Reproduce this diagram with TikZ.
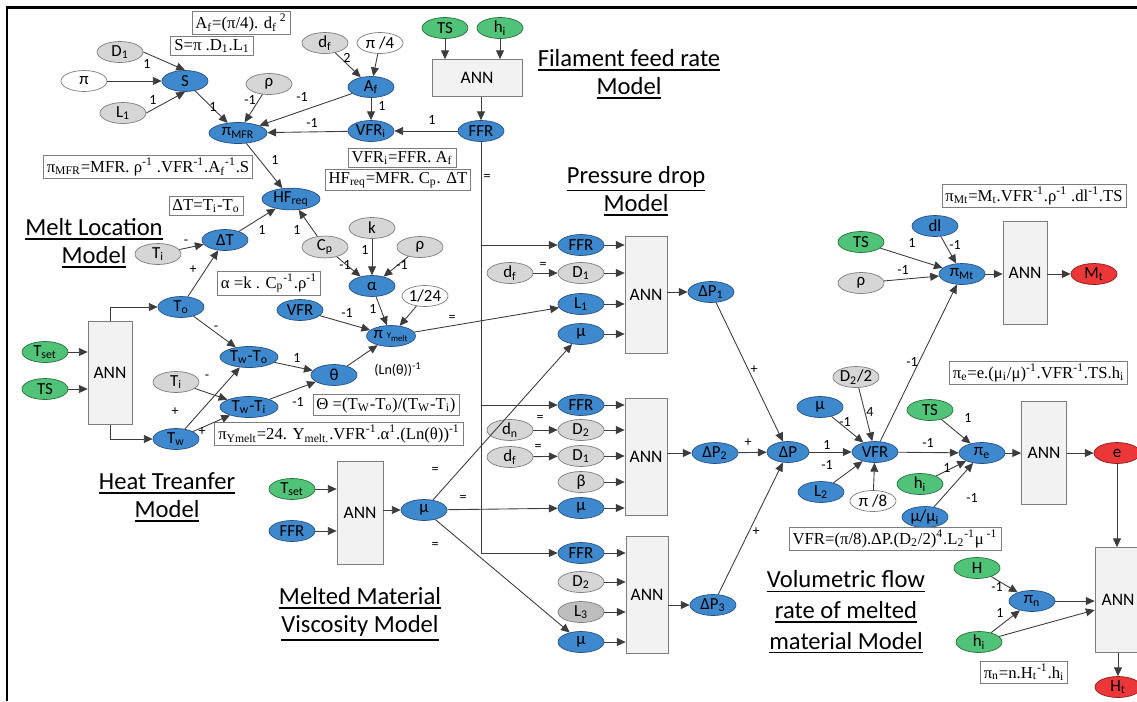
\documentclass[tikz,border=0pt]{standalone}
\usepackage{fontspec}
\setmainfont{Carlito}
\newfontfamily\eqfont{Liberation Serif}
\usetikzlibrary{arrows.meta,shapes.geometric}
\definecolor{nodeblue}{RGB}{62,137,205}
\definecolor{lineblue}{RGB}{40,80,130}
\definecolor{nodegreen}{RGB}{80,195,120}
\definecolor{linegreen}{RGB}{40,110,60}
\definecolor{nodered}{RGB}{235,55,55}
\definecolor{linered}{RGB}{140,30,30}
\definecolor{nodegray}{RGB}{214,214,214}
\definecolor{darkgray2}{RGB}{190,190,190}
\definecolor{edgegray}{RGB}{125,125,125}
\definecolor{annfill}{RGB}{242,242,242}
\definecolor{wire}{RGB}{60,60,60}
\newcommand\ulx[1]{\vtop{\hbox{#1}\kern1.6pt\hrule height 0.8pt}}
\tikzset{
  base/.style   = {ellipse,inner sep=0pt,minimum width=0.92cm,minimum height=0.42cm,
                   font=\fontsize{9.6}{10}\selectfont},
  bnode/.style  = {base,draw=lineblue,fill=nodeblue},
  gnode/.style  = {base,draw=linegreen,fill=nodegreen},
  rnode/.style  = {base,draw=linered,fill=nodered},
  cnode/.style  = {base,draw=edgegray,fill=nodegray},
  wnode/.style  = {base,draw=edgegray,fill=white},
  wide/.style   = {minimum width=1.16cm},
  annbox/.style = {draw=edgegray,fill=annfill,inner sep=0pt,font=\fontsize{10}{11}\selectfont},
  eqbox/.style  = {draw=edgegray,fill=white,inner xsep=2pt,inner ysep=1.5pt,
                   font=\eqfont\fontsize{9.5}{11}\selectfont},
  lbl/.style    = {inner sep=0pt,font=\fontsize{8}{9}\selectfont},
  ttl/.style    = {align=center,font=\fontsize{14}{16}\selectfont},
  arr/.style    = {-{Triangle[length=5pt,width=4.5pt]},wire,line width=0.5pt},
}
\begin{document}
\begin{tikzpicture}[x=0.02cm,y=-0.02cm]
  \useasboundingbox (0,0) rectangle (1137,701);
  \draw[line width=1.7pt] (7,701) -- (7,7) -- (1137,7);

  % filament feed rate and melt location
  \node[cnode] (D1s) at (120,52) {D\textsubscript{1}};
  \node[wnode] (pis) at (84,81) {π};
  \node[cnode] (L1s) at (123,113) {L\textsubscript{1}};
  \node[bnode] (S) at (185,81) {S};
  \node[cnode] (rhoA) at (269,84) {ρ};
  \node[bnode,wide] (piMFR) at (238,133) {π\textsubscript{MFR}};
  \node[cnode] (df) at (325,43) {d\textsubscript{f}};
  \node[wnode] (pi4) at (380,43) {π /4};
  \node[bnode] (Af) at (371,87) {A\textsubscript{f}};
  \node[bnode] (VFRi) at (371,131) {VFR\textsubscript{i}};
  \node[bnode] (FFR) at (481,131) {FFR};
  \node[gnode] (TSa) at (445,28) {TS};
  \node[gnode] (hia) at (500,28) {h\textsubscript{i}};
  \node[annbox,minimum width=1.8cm,minimum height=0.74cm] (ANNf) at (477,78) {ANN};
  \node[bnode,wide] (HFreq) at (291,199) {HF\textsubscript{req}};
  \node[bnode] (dT) at (225,240) {ΔT};
  \node[cnode] (TiA) at (158,254) {T\textsubscript{i}};
  \node[cnode] (k) at (372,228) {k};
  \node[cnode] (Cp) at (325,247) {C\textsubscript{p}};
  \node[cnode] (rhoB) at (420,247) {ρ};
  \node[bnode] (alpha) at (372,286) {α};
  \node[wnode] (r24) at (425,296) {1/24};
  \node[bnode] (VFRa) at (300,310) {VFR};
  \node[bnode] (piY) at (391,336) {π {\fontsize{5}{6}\selectfont Y\textsubscript{melt}}};
  \node[bnode] (theta) at (334,375) {θ};

  % heat transfer
  \node[bnode] (To) at (181,307) {T\textsubscript{o}};
  \node[bnode] (Tw) at (176,439) {T\textsubscript{w}};
  \node[bnode,wide] (TwTo) at (249,357) {T\textsubscript{w}-T\textsubscript{o}};
  \node[bnode,wide] (TwTi) at (249,407) {T\textsubscript{w}-T\textsubscript{i}};
  \node[cnode] (TiB) at (176,382) {T\textsubscript{i}};
  \node[annbox,minimum width=0.88cm,minimum height=2.06cm] (ANNh) at (110,373) {ANN};
  \node[gnode] (TsetA) at (45,352) {T\textsubscript{set}};
  \node[gnode] (TSb) at (45,389) {TS};

  % viscosity
  \node[gnode] (TsetB) at (292,489) {T\textsubscript{set}};
  \node[bnode] (FFRv) at (292,531) {FFR};
  \node[annbox,minimum width=0.92cm,minimum height=2.06cm] (ANNv) at (360,513) {ANN};
  \node[bnode] (muv) at (424,510) {μ};

  % pressure drop
  \node[bnode] (FFRa) at (581,245) {FFR};
  \node[cnode] (D1a) at (581,273) {D\textsubscript{1}};
  \node[bnode] (L1a) at (581,304) {L\textsubscript{1}};
  \node[bnode] (mua) at (581,334) {μ};
  \node[cnode] (dfa) at (510,273) {d\textsubscript{f}};
  \node[annbox,minimum width=0.84cm,minimum height=2.34cm] (ANNa) at (646,295) {ANN};
  \node[bnode] (dP1) at (711,292) {ΔP\textsubscript{1}};
  \node[bnode] (FFRb) at (581,405) {FFR};
  \node[cnode] (D2b) at (581,430) {D\textsubscript{2}};
  \node[cnode] (D1b) at (581,456) {D\textsubscript{1}};
  \node[cnode] (betab) at (581,482) {β};
  \node[bnode] (mub) at (581,508) {μ};
  \node[cnode] (dnb) at (510,430) {d\textsubscript{n}};
  \node[cnode] (dfb) at (510,457) {d\textsubscript{f}};
  \node[annbox,minimum width=0.84cm,minimum height=2.34cm] (ANNb) at (646,457) {ANN};
  \node[bnode] (dP2) at (715,453) {ΔP\textsubscript{2}};
  \node[bnode] (FFRc) at (581,553) {FFR};
  \node[cnode] (D2c) at (581,582) {D\textsubscript{2}};
  \node[cnode,fill=darkgray2] (L3c) at (581,612) {L\textsubscript{3}};
  \node[bnode] (muc) at (581,642) {μ};
  \node[annbox,minimum width=0.84cm,minimum height=2.34cm] (ANNc) at (647,595) {ANN};
  \node[bnode] (dP3) at (713,605) {ΔP\textsubscript{3}};

  % volumetric flow rate
  \node[bnode,minimum width=0.84cm] (dP) at (788,452) {ΔP};
  \node[bnode] (muw) at (820,407) {μ};
  \node[bnode] (L2) at (821,492) {L\textsubscript{2}};
  \node[cnode] (D22) at (856,377) {D\textsubscript{2}/2};
  \node[bnode] (VFRb) at (875,452) {VFR};
  \node[wnode] (pi8) at (873,501) {π /8};

  % outputs
  \node[gnode] (TSc) at (861,242) {TS};
  \node[bnode] (dl) at (935,226) {dl};
  \node[cnode] (rhoC) at (861,283) {ρ};
  \node[bnode] (piMt) at (962,274) {π\textsubscript{Mt}};
  \node[annbox,minimum width=0.88cm,minimum height=2.06cm] (ANNm) at (1025,273) {ANN};
  \node[rnode] (Mt) at (1094,274) {M\textsubscript{t}};
  \node[gnode] (TSd) at (930,410) {TS};
  \node[gnode] (hib) at (920,484) {h\textsubscript{i}};
  \node[bnode] (mumi) at (925,517) {μ/μ\textsubscript{i}};
  \node[bnode] (pie) at (982,453) {π\textsubscript{e}};
  \node[annbox,minimum width=0.9cm,minimum height=2.06cm] (ANNe) at (1044,453) {ANN};
  \node[rnode] (e) at (1117,453) {e};
  \node[gnode] (H) at (977,568) {H};
  \node[bnode] (pin) at (1032,601) {π\textsubscript{n}};
  \node[gnode] (hic) at (979,642) {h\textsubscript{i}};
  \node[annbox,minimum width=0.92cm,minimum height=2.1cm] (ANNt) at (1118,600) {ANN};
  \node[rnode] (Ht) at (1118,687) {H\textsubscript{t}};

  % formula boxes
  \node[eqbox] (eqAf) at (241,23) {A\textsubscript{f}=(π/4). d\textsubscript{f}\textsuperscript{ 2}};
  \node[eqbox] (eqS) at (212,46) {S=π .D\textsubscript{1}.L\textsubscript{1}};
  \node[eqbox] (eqMFR) at (148,167) {π\textsubscript{MFR}=MFR. ρ\textsuperscript{-1} .VFR\textsuperscript{-1}.A\textsubscript{f}\textsuperscript{-1}.S};
  \node[eqbox] (eqdT) at (206,206) {ΔT=T\textsubscript{i}-T\textsubscript{o}};
  \node[eqbox] (eqVFRi) at (402,158) {VFR\textsubscript{i}=FFR. A\textsubscript{f}};
  \node[eqbox] (eqHF) at (398,180) {HF\textsubscript{req}=MFR. C\textsubscript{p}. ΔT};
  \node[eqbox] (eqal) at (269,283) {α =k . C\textsubscript{p}\textsuperscript{-1}.ρ\textsuperscript{-1}};
  \node[eqbox] (eqTh) at (386,405) {Θ =(T\textsubscript{W}-T\textsubscript{o})/(T\textsubscript{W}-T\textsubscript{i})};
  \node[eqbox] (eqY) at (339,434) {π\textsubscript{Ymelt}=24. Y\textsubscript{melt.}.VFR\textsuperscript{-1}.α\textsuperscript{1}.(Ln(θ))\textsuperscript{-1}};
  \node[eqbox] (eqMt) at (1034,196) {π\textsubscript{Mt}=M\textsubscript{t}.VFR\textsuperscript{-1}.ρ\textsuperscript{-1} .dl\textsuperscript{-1}.TS};
  \node[eqbox,anchor=west] (eqe) at (949,373) {π\textsubscript{e}=e.(μ\textsubscript{i}/μ)\textsuperscript{-1}.VFR\textsuperscript{-1}.TS.h\textsubscript{i}};
  \node[eqbox] (eqV) at (895,539) {VFR=(π/8).ΔP.(D\textsubscript{2}/2)\textsuperscript{4}.L\textsubscript{2}\textsuperscript{-1}μ\textsuperscript{ -1}};
  \node[eqbox] (eqn) at (1024,672) {π\textsubscript{n}=n.H\textsubscript{t}\textsuperscript{-1}.h\textsubscript{i}};

  % model titles
  \node[ttl] (tMelt) at (94,243) {\ulx{Melt Location}\\\ulx{Model}};
  \node[ttl] (tHeat) at (167,497) {\ulx{Heat Treanfer}\\\ulx{Model}};
  \node[ttl] (tFeed) at (629,74) {\ulx{Filament feed rate}\\\ulx{Model}};
  \node[ttl] (tPress) at (636,191) {\ulx{Pressure drop}\\\ulx{Model}};
  \node[ttl] (tVisc) at (360,614) {\ulx{Melted Material}\\\ulx{Viscosity Model}};
  \node[ttl,font=\fontsize{14}{17.5}\selectfont] (tVol) at (846,612)
       {\ulx{Volumetric flow}\\\ulx{rate of melted}\\\ulx{material Model}};

  % connectors
  \draw[arr] (D1s.east) -- (S.north);
  \draw[arr] (pis) -- (S);
  \draw[arr] (L1s.east) -- (S.south);
  \draw[arr] (S) -- (piMFR);
  \draw[arr] (rhoA) -- (piMFR);
  \draw[arr] (Af) -- (piMFR);
  \draw[arr] (VFRi) -- (piMFR);
  \draw[arr] (df) -- (Af);
  \draw[arr] (pi4) -- (Af);
  \draw[arr] (Af) -- (VFRi);
  \draw[arr] (FFR) -- (VFRi);
  \draw[arr] (TSa) -- (TSa |- ANNf.north);
  \draw[arr] (hia) -- (hia |- ANNf.north);
  \draw[arr] (ANNf.south -| FFR) -- (FFR);
  \draw[arr] (piMFR) -- (HFreq);
  \draw[arr] (dT) -- (HFreq);
  \draw[arr] (Cp) -- (HFreq);
  \draw[arr] (TiA) -- (dT);
  \draw[arr] (To) -- (dT);
  \draw[arr] (k) -- (alpha);
  \draw[arr] (Cp) -- (alpha);
  \draw[arr] (rhoB) -- (alpha);
  \draw[arr] (alpha) -- (piY);
  \draw[arr] (r24) -- (piY);
  \draw[arr] (VFRa) -- (piY);
  \draw[arr] (theta) -- (piY);
  \draw[arr] (TwTo) -- (theta);
  \draw[arr] (TwTi) -- (theta);
  \draw[arr] (To) -- (TwTo);
  \draw[arr] (Tw) -- (TwTo);
  \draw[arr] (TiB) -- (TwTi);
  \draw[arr] (Tw) -- (TwTi);
  \draw[arr] (TsetA) -- (TsetA -| ANNh.west);
  \draw[arr] (TSb) -- (TSb -| ANNh.west);
  \draw[arr] (ANNh.north) |- (To);
  \draw[arr] (ANNh.south) |- (Tw);
  \draw[arr] (piY) -- (L1a);
  \draw[arr] (FFR) |- (FFRa);
  \draw[arr] (FFR) |- (FFRb);
  \draw[arr] (FFR) |- (FFRc);
  \draw[arr] (dfa) -- (D1a);
  \draw[arr] (dnb) -- (D2b);
  \draw[arr] (dfb) -- (D1b);
  \foreach \n in {FFRa,D1a,L1a,mua}
    \draw[arr] (\n) -- (\n -| ANNa.west);
  \foreach \n in {FFRb,D2b,D1b,betab,mub}
    \draw[arr] (\n) -- (\n -| ANNb.west);
  \foreach \n in {FFRc,D2c,L3c,muc}
    \draw[arr] (\n) -- (\n -| ANNc.west);
  \draw[arr] (ANNa.east |- dP1) -- (dP1);
  \draw[arr] (ANNb.east |- dP2) -- (dP2);
  \draw[arr] (ANNc.east |- dP3) -- (dP3);
  \draw[arr] (TsetB) -- (TsetB -| ANNv.west);
  \draw[arr] (FFRv) -- (FFRv -| ANNv.west);
  \draw[arr] (ANNv.east |- muv) -- (muv);
  \draw[arr] (muv) -- (mua);
  \draw[arr] (muv) -- (mub);
  \draw[arr] (muv) -- (muc);
  \draw[arr] (dP1) -- (dP);
  \draw[arr] (dP2) -- (dP);
  \draw[arr] (dP3) -- (dP);
  \draw[arr] (dP) -- (VFRb);
  \draw[arr] (muw) -- (VFRb);
  \draw[arr] (L2) -- (VFRb);
  \draw[arr] (D22) -- (VFRb);
  \draw[arr] (pi8) -- (VFRb);
  \draw[arr] (VFRb) -- (piMt);
  \draw[arr] (TSc) -- (piMt);
  \draw[arr] (dl) -- (piMt);
  \draw[arr] (rhoC) -- (piMt);
  \draw[arr] (piMt) -- (piMt -| ANNm.west);
  \draw[arr] (ANNm.east |- Mt) -- (Mt);
  \draw[arr] (VFRb) -- (pie);
  \draw[arr] (TSd) -- (pie);
  \draw[arr] (hib) -- (pie);
  \draw[arr] (mumi) -- (pie);
  \draw[arr] (pie) -- (pie -| ANNe.west);
  \draw[arr] (ANNe.east |- e) -- (e);
  \draw[arr] (e) -- (e |- ANNt.north);
  \draw[arr] (H) -- (pin);
  \draw[arr] (hic) -- (pin);
  \draw[arr] (hic) -- ([yshift=-0.2cm]ANNt.west);
  \draw[arr] (pin) -- (pin -| ANNt.west);
  \draw[arr] (ANNt) -- (Ht);

  % exponents on the connectors
  \foreach \x/\y/\t [count=\i] in {147/64/1, 153/100/1, 213/107/1, 250/100/-1,
      302/97/-1, 312/123/-1, 347/58/2, 382/106/1, 432/120/1, 275/160/1,
      262/230/1, 297/230/1, 186/242/-, 193/270/+, 365/250/1, 345/265/-1,
      402/265/-1, 373/309/1, 347/313/-1, 452/318/=, 297/358/1, 298/402/-1,
      216/328/-, 207/377/-, 175/412/+, 202/432/+, 487/177/=, 543/265/=,
      540/418/=, 538/447/=, 435/470/=, 463/498/=, 435/545/=, 754/370/+,
      748/443/+, 756/532/+, 827/445/1, 845/422/-1, 827/465/-1, 870/412/4,
      912/362/-1, 912/243/1, 955/245/-1, 903/270/-1, 928/443/-1, 968/418/1,
      947/468/1, 972/498/-1, 997/587/-1, 1000/613/1}
    \node[lbl] (lab\i) at (\x,\y) {\t};
  \node[lbl] (labLn) at (398,370) {(Ln(θ))\textsuperscript{-1}};
\end{tikzpicture}
\end{document}
